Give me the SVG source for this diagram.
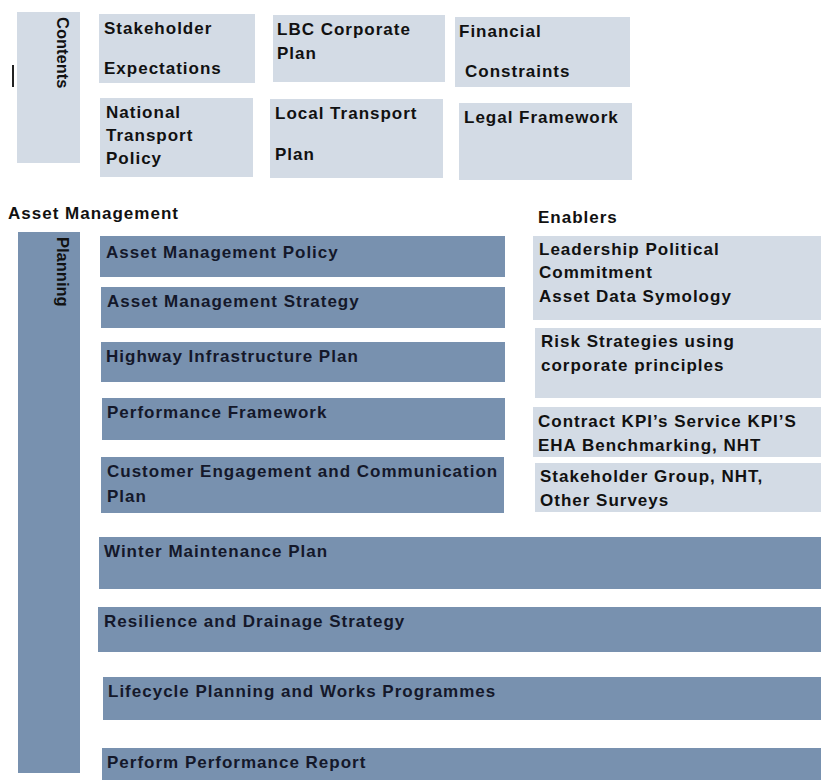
<svg xmlns="http://www.w3.org/2000/svg" width="821" height="780" viewBox="0 0 821 780">
<style>
.light{fill:#D3DBE5;}
.dark{fill:#7891AF;}
.t{font-family:"Liberation Sans",Arial,sans-serif;font-weight:bold;font-size:17px;letter-spacing:1px;fill:#111;}
.td{font-family:"Liberation Sans",Arial,sans-serif;font-weight:bold;font-size:17px;letter-spacing:1px;fill:#14182a;}
.side{font-family:"Liberation Sans",Arial,sans-serif;font-weight:bold;font-size:16.5px;fill:#111;}
</style>
<rect width="821" height="780" fill="#ffffff"/>
<line x1="13" y1="65" x2="13" y2="87" stroke="#222" stroke-width="2"/>
<g id="contents"><rect class="light" x="17" y="12" width="63" height="151"/>
<text class="side" transform="translate(57,17) rotate(90)">Contents</text></g>
<g id="stakeholder"><rect class="light" x="99" y="14" width="156" height="69"/>
<text class="t" x="104" y="34">Stakeholder</text><text class="t" x="104" y="74">Expectations</text></g>
<g id="lbc"><rect class="light" x="273" y="15" width="172" height="67"/>
<text class="t" x="277" y="35">LBC Corporate</text><text class="t" x="277" y="59">Plan</text></g>
<g id="financial"><rect class="light" x="455" y="17" width="175" height="70"/>
<text class="t" x="459" y="37">Financial</text><text class="t" x="465" y="77">Constraints</text></g>
<g id="national"><rect class="light" x="100" y="98" width="153" height="79"/>
<text class="t" x="106" y="118">National</text><text class="t" x="106" y="141">Transport</text><text class="t" x="106" y="164">Policy</text></g>
<g id="ltp"><rect class="light" x="270" y="99" width="173" height="79"/>
<text class="t" x="275" y="119">Local Transport</text><text class="t" x="275" y="160">Plan</text></g>
<g id="legal"><rect class="light" x="459" y="103" width="173" height="77"/>
<text class="t" x="464" y="123">Legal Framework</text></g>
<text class="t" x="8" y="219">Asset Management</text>
<text class="t" x="538" y="223">Enablers</text>
<g id="planning"><rect class="dark" x="18" y="232" width="62" height="541"/>
<text class="side" transform="translate(57,237) rotate(90)">Planning</text></g>
<g id="amp"><rect class="dark" x="100" y="236" width="405" height="41"/><text class="td" x="106" y="258">Asset Management Policy</text></g>
<g id="ams"><rect class="dark" x="101" y="287" width="404" height="41"/><text class="td" x="107" y="307">Asset Management Strategy</text></g>
<g id="hip"><rect class="dark" x="101" y="342" width="404" height="40"/><text class="td" x="106" y="362">Highway Infrastructure Plan</text></g>
<g id="pf"><rect class="dark" x="102" y="398" width="403" height="42"/><text class="td" x="107" y="418">Performance Framework</text></g>
<g id="cec"><rect class="dark" x="101" y="457" width="403" height="56"/><text class="td" x="107" y="477">Customer Engagement and Communication</text><text class="td" x="107" y="502">Plan</text></g>
<g id="wmp"><rect class="dark" x="99" y="537" width="722" height="52"/><text class="td" x="104" y="557">Winter Maintenance Plan</text></g>
<g id="rds"><rect class="dark" x="98" y="607" width="723" height="45"/><text class="td" x="104" y="627">Resilience and Drainage Strategy</text></g>
<g id="lpw"><rect class="dark" x="103" y="677" width="718" height="43"/><text class="td" x="108" y="697">Lifecycle Planning and Works Programmes</text></g>
<g id="ppr"><rect class="dark" x="102" y="748" width="719" height="32"/><text class="td" x="107" y="768">Perform Performance Report</text></g>
<g id="leadership"><rect class="light" x="533" y="236" width="288" height="84"/>
<text class="t" x="539" y="255">Leadership Political</text><text class="t" x="539" y="278">Commitment</text><text class="t" x="539" y="302">Asset Data  Symology</text></g>
<g id="risk"><rect class="light" x="535" y="328" width="286" height="70"/>
<text class="t" x="541" y="347">Risk Strategies using</text><text class="t" x="541" y="371">corporate principles</text></g>
<g id="kpi"><rect class="light" x="533" y="407" width="288" height="50"/>
<text class="t" x="538" y="427">Contract KPI’s Service KPI’S</text><text class="t" x="538" y="451">EHA Benchmarking, NHT</text></g>
<g id="sg"><rect class="light" x="535" y="463" width="286" height="49"/>
<text class="t" x="540" y="482">Stakeholder Group, NHT,</text><text class="t" x="540" y="506">Other Surveys</text></g>
</svg>
